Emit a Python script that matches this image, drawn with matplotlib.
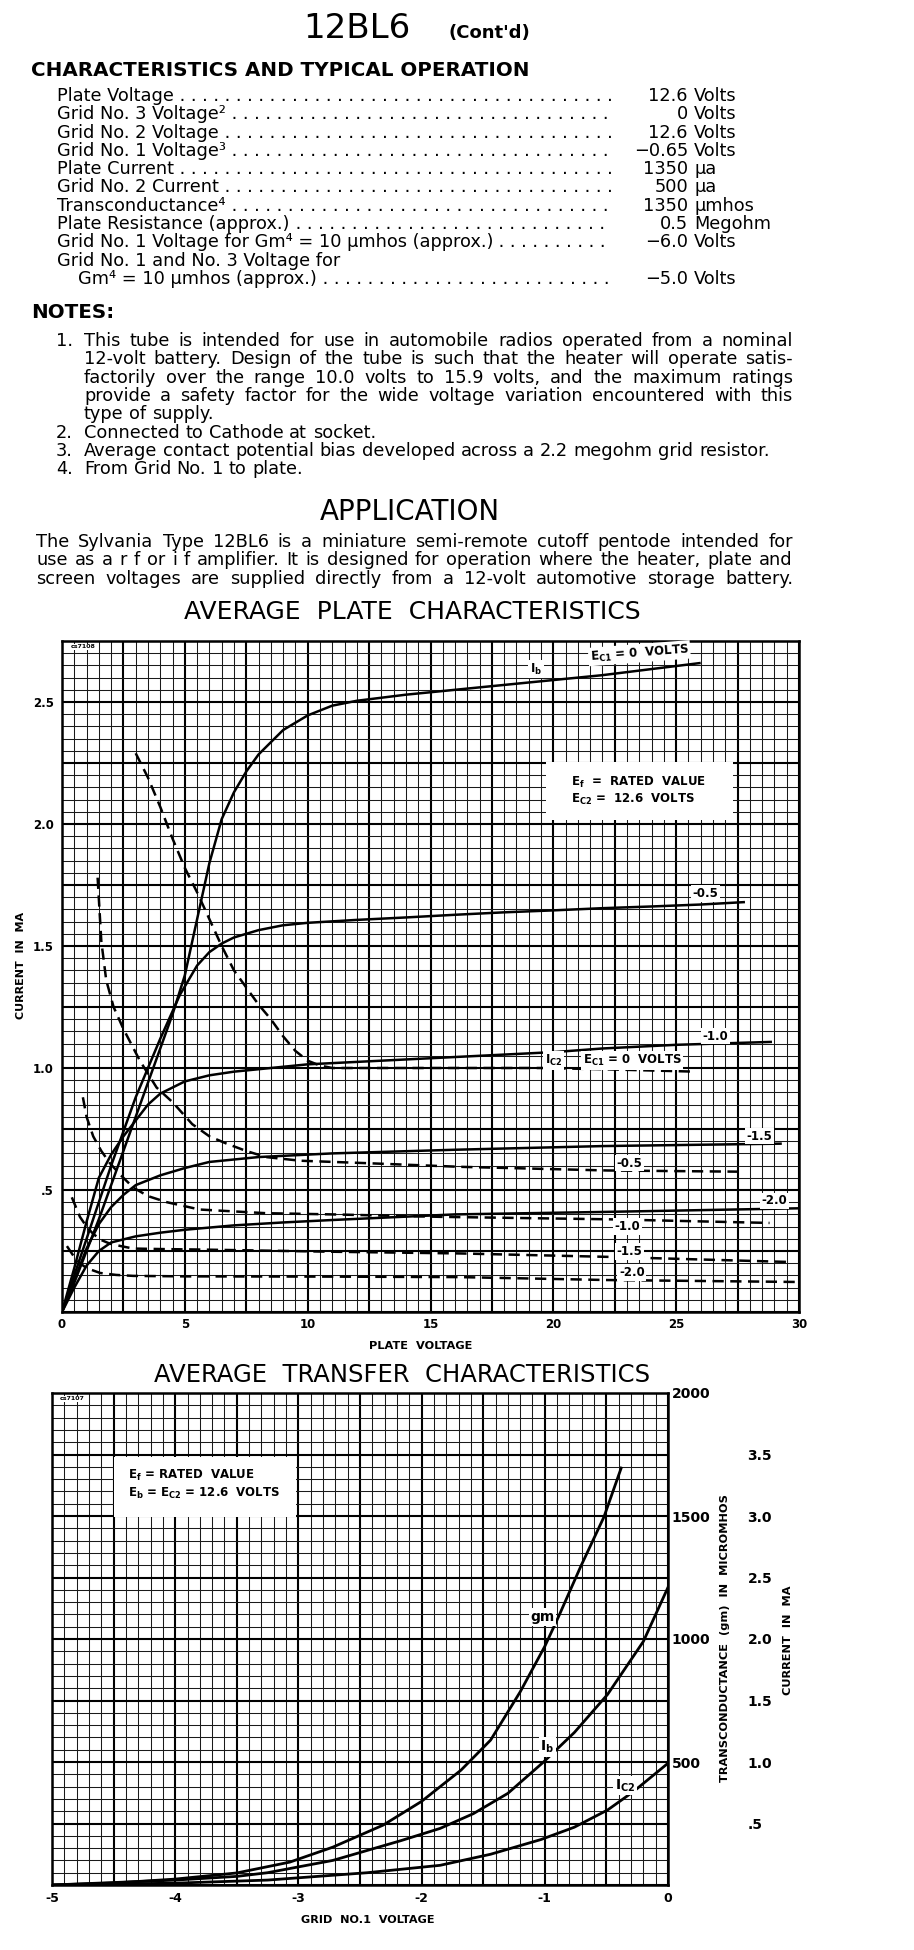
import matplotlib
matplotlib.use('Agg')
import matplotlib.pyplot as plt
import numpy as np
from matplotlib import font_manager
from matplotlib.patches import Rectangle

# ---------------- data ----------------
char_labels = ['Plate Voltage', 'Grid No. 3 Voltage²', 'Grid No. 2 Voltage', 'Grid No. 1 Voltage³',
               'Plate Current', 'Grid No. 2 Current', 'Transconductance⁴', 'Plate Resistance (approx.)',
               'Grid No. 1 Voltage for Gm⁴ = 10 µmhos (approx.)', 'Grid No. 1 and No. 3 Voltage for',
               'Gm⁴ = 10 µmhos (approx.)']
char_values = ['12.6', '0', '12.6', '−0.65', '1350', '500', '1350', '0.5', '−6.0', '', '−5.0']
char_units = ['Volts', 'Volts', 'Volts', 'Volts', 'µa', 'µa', 'µmhos', 'Megohm', 'Volts', '', 'Volts']

note1 = ['This tube is intended for use in automobile radios operated from a nominal',
         '12-volt battery.  Design of the tube is such that the heater will operate satis-',
         'factorily over the range 10.0 volts to 15.9 volts, and the maximum ratings',
         'provide a safety factor for the wide voltage variation encountered with this',
         'type of supply.']
notes_other = ['Connected to Cathode at socket.',
               'Average contact potential bias developed across a 2.2 megohm grid resistor.',
               'From Grid No. 1 to plate.']
application = ['The Sylvania Type 12BL6 is a miniature semi-remote cutoff pentode intended for',
               'use as a r f or i f amplifier.  It is designed for operation where the heater, plate and',
               'screen voltages are supplied directly from a 12-volt automotive storage battery.']

# plate characteristics, plate current Ib (mA) vs plate voltage
ib0_v = [0, 0.5, 1, 1.5, 2, 2.5, 3, 3.5, 4, 4.5, 5, 5.5, 6, 6.5, 7, 7.5, 8, 9, 10, 11, 12, 14, 16, 18, 20, 22, 24, 26]
ib0_i = [0, 0.12, 0.25, 0.38, 0.52, 0.66, 0.80, 0.94, 1.08, 1.22, 1.38, 1.61, 1.84, 2.02, 2.13, 2.215, 2.285,
         2.385, 2.445, 2.485, 2.505, 2.53, 2.55, 2.57, 2.59, 2.61, 2.635, 2.66]
ib05_v = [0, 1, 2, 3, 4, 4.8, 5.5, 6, 6.5, 7, 8, 9, 10, 12, 14, 16, 18, 20, 22, 24, 26, 27.8]
ib05_i = [0, 0.30, 0.60, 0.88, 1.12, 1.30, 1.42, 1.475, 1.51, 1.535, 1.565, 1.585, 1.595, 1.607, 1.617,
          1.628, 1.638, 1.646, 1.655, 1.662, 1.67, 1.68]
ib10_v = [0, 0.5, 1, 1.5, 2, 2.5, 3, 3.5, 4, 5, 6, 7, 8, 10, 12, 15, 18, 20, 22, 25, 28.9]
ib10_i = [0, 0.18, 0.37, 0.55, 0.645, 0.72, 0.785, 0.85, 0.895, 0.945, 0.97, 0.985, 0.995, 1.015, 1.025,
          1.04, 1.055, 1.065, 1.08, 1.095, 1.107]
ib15_v = [0, 0.5, 1, 1.5, 2, 2.5, 3, 4, 5, 6, 8, 11, 16, 22, 29.3]
ib15_i = [0, 0.13, 0.26, 0.36, 0.43, 0.48, 0.52, 0.56, 0.59, 0.615, 0.635, 0.65, 0.665, 0.68, 0.69]
ib20_v = [0, 0.5, 1, 1.5, 2, 3, 4, 5, 7, 9, 11, 16, 22, 30]
ib20_i = [0, 0.10, 0.19, 0.25, 0.285, 0.31, 0.325, 0.337, 0.355, 0.367, 0.377, 0.40, 0.41, 0.425]

# screen current Ic2 (mA), dashed
ic0_v = [3.0, 3.5, 4, 4.5, 5, 5.5, 6, 6.5, 7, 7.5, 8, 8.5, 9, 9.5, 10, 10.5, 11, 13, 16, 19.5, 22, 25.8]
ic0_i = [2.29, 2.19, 2.07, 1.94, 1.82, 1.72, 1.61, 1.50, 1.40, 1.33, 1.26, 1.20, 1.13, 1.07, 1.03, 1.01,
         1.0, 1.0, 1.0, 1.0, 0.995, 0.985]
ic05_v = [1.45, 1.6, 1.8, 2.1, 2.5, 3.17, 3.85, 4.5, 5.3, 6.0, 6.7, 7.5, 8.3, 9.7, 12.4, 16.2, 22.2, 27.7]
ic05_i = [1.78, 1.52, 1.36, 1.25, 1.16, 1.03, 0.92, 0.86, 0.77, 0.72, 0.69, 0.66, 0.635, 0.62, 0.61,
          0.595, 0.58, 0.575]
ic10_v = [0.85, 1.0, 1.27, 1.6, 1.95, 2.4, 2.9, 3.5, 4.27, 5.6, 8.3, 11, 15.4, 22.2, 28.8]
ic10_i = [0.88, 0.80, 0.72, 0.66, 0.61, 0.56, 0.51, 0.475, 0.45, 0.42, 0.405, 0.40, 0.39, 0.38, 0.365]
ic15_v = [0.4, 0.73, 1.0, 1.27, 1.6, 1.95, 2.4, 2.9, 4, 5.6, 11, 16.2, 22.2, 29.6]
ic15_i = [0.47, 0.39, 0.35, 0.32, 0.295, 0.28, 0.27, 0.26, 0.258, 0.256, 0.247, 0.24, 0.226, 0.205]
ic20_v = [0.2, 0.5, 0.73, 1.0, 1.55, 2.2, 2.9, 5, 11, 16.2, 22.2, 30]
ic20_i = [0.27, 0.225, 0.20, 0.18, 0.16, 0.152, 0.148, 0.146, 0.145, 0.143, 0.131, 0.123]

# transfer characteristics vs grid no.1 voltage
gm_v = [-5, -4.5, -4, -3.5, -3.07, -2.72, -2.31, -2.0, -1.68, -1.44, -1.2, -1.0, -0.89, -0.71, -0.52, -0.38]
gm_val = [0, 8, 24, 49, 93, 154, 244, 340, 467, 589, 785, 970, 1089, 1293, 1496, 1695]
tib_v = [-5, -4.5, -4, -3.5, -3.25, -2.72, -2.17, -1.85, -1.58, -1.3, -1.01, -0.76, -0.49, -0.2, 0]
tib_i = [0.0, 0.02, 0.04, 0.07, 0.10, 0.20, 0.36, 0.46, 0.58, 0.745, 1.0, 1.24, 1.55, 1.98, 2.42]
tic2_v = [-5, -4.5, -4, -3.25, -2.44, -1.85, -1.44, -1.03, -0.76, -0.49, -0.28, 0]
tic2_i = [0.0, 0.008, 0.015, 0.04, 0.10, 0.16, 0.25, 0.37, 0.47, 0.61, 0.76, 0.99]

# ---------------- figure ----------------
W, H = 914, 1950
fig = plt.figure(figsize=(W / 100, H / 100), dpi=100)
renderer = fig.canvas.get_renderer()

names = {f.name for f in font_manager.fontManager.ttflist}
narrow = 'Liberation Sans Narrow' if 'Liberation Sans Narrow' in names else 'DejaVu Sans'


def fx(x):
    return x / W


def fy(y):
    return 1 - y / H


def width_px(s, **kw):
    t = fig.text(0, 0, s, **kw)
    w = t.get_window_extent(renderer).width
    t.remove()
    return w


body = 12.8


def put_line(line, x0, x1, yb, justify=True):
    words = line.split()
    ws = [width_px(w, fontsize=body) for w in words]
    space = body * 100 / 72 * 0.318
    gap = space
    if justify and len(words) > 1:
        gap = max((x1 - x0 - sum(ws)) / (len(words) - 1), space * 0.6)
    x = x0
    for w, wd in zip(words, ws):
        fig.text(fx(x), fy(yb), w, fontsize=body, va='baseline')
        x += wd + gap


# header
fig.text(fx(303), fy(38), '12BL6', fontsize=24.5, va='baseline')
fig.text(fx(448), fy(38), "(Cont'd)", fontsize=13, fontweight='bold', va='baseline')
fig.text(fx(31), fy(76), 'CHARACTERISTICS AND TYPICAL OPERATION', fontsize=14.3, fontweight='bold', va='baseline')

dot_w = width_px('. .', fontsize=body) - width_px('.', fontsize=body)
for i, (lab, val, unit) in enumerate(zip(char_labels, char_values, char_units)):
    yb = 101 + 18.3 * i
    x0 = 78 if i == 10 else 57
    fig.text(fx(x0), fy(yb), lab, fontsize=body, va='baseline')
    if val:
        xe = x0 + width_px(lab, fontsize=body)
        n = int((615 - xe) / dot_w)
        fig.text(fx(xe), fy(yb), ' .' * n, fontsize=body, va='baseline')
        fig.text(fx(688), fy(yb), val, fontsize=body, va='baseline', ha='right')
        fig.text(fx(694), fy(yb), unit, fontsize=body, va='baseline')

# notes
fig.text(fx(31), fy(318), 'NOTES:', fontsize=14.3, fontweight='bold', va='baseline')
fig.text(fx(56), fy(346), '1.', fontsize=body, va='baseline')
for i, line in enumerate(note1):
    put_line(line, 84, 793, 346 + 18.3 * i, justify=(i < len(note1) - 1))
for j, line in enumerate(notes_other):
    yb = 346 + 18.3 * (len(note1) + j)
    fig.text(fx(56), fy(yb), f'{j + 2}.', fontsize=body, va='baseline')
    put_line(line, 84, 793, yb, justify=False)

fig.text(fx(410), fy(520), 'APPLICATION', fontsize=20, family=narrow, ha='center', va='baseline')
for i, line in enumerate(application):
    put_line(line, 36, 793, 547 + 18.3 * i)

fig.text(fx(412), fy(619), 'AVERAGE  PLATE  CHARACTERISTICS', fontsize=22 if narrow != 'DejaVu Sans' else 18,
         family=narrow, ha='center', va='baseline')
fig.text(fx(402), fy(1382), 'AVERAGE  TRANSFER  CHARACTERISTICS', fontsize=17.5, ha='center', va='baseline')


def paper_grid(ax, xmin, ymin):
    ax.set_axisbelow(True)
    ax.set_xticks(xmin, minor=True)
    ax.set_yticks(ymin, minor=True)
    ax.grid(which='minor', color='#1a1a1a', lw=0.75)
    ax.grid(which='major', color='black', lw=1.5)
    ax.tick_params(which='both', length=0)
    for s in ax.spines.values():
        s.set_linewidth(1.8)


# ---------------- plate characteristics ----------------
ax = fig.add_axes([fx(62), fy(1312), (799 - 62) / W, (1312 - 641) / H])
ax.set_xlim(0, 30)
ax.set_ylim(0, 2.75)
xmaj = np.arange(0, 30.01, 2.5)
ymaj = np.arange(0, 2.751, 0.25)
ax.set_xticks(xmaj, [f'{v:.0f}' if v % 5 == 0 else '' for v in xmaj], fontsize=8.5, fontweight='bold')
ylabs = []
for v in ymaj:
    if v > 0 and abs(v * 2 - round(v * 2)) < 1e-6:
        ylabs.append('.5' if abs(v - 0.5) < 1e-6 else f'{v:.1f}')
    else:
        ylabs.append('')
ax.set_yticks(ymaj, ylabs, fontsize=8.5, fontweight='bold')
paper_grid(ax, np.arange(0, 30.01, 0.5), np.arange(0, 2.751, 0.05))
ax.tick_params(axis='x', pad=4)
ax.tick_params(axis='y', pad=6)

lw = 1.8
dash = (0, (4.5, 2.6))
for v, i in [(ib0_v, ib0_i), (ib05_v, ib05_i), (ib10_v, ib10_i), (ib15_v, ib15_i), (ib20_v, ib20_i)]:
    ax.plot(v, i, color='black', lw=lw, zorder=3, solid_capstyle='butt', solid_joinstyle='round')
for v, i in [(ic0_v, ic0_i), (ic05_v, ic05_i), (ic10_v, ic10_i), (ic15_v, ic15_i), (ic20_v, ic20_i)]:
    ax.plot(v, i, color='black', lw=lw, ls=dash, zorder=3)

wb = dict(facecolor='white', edgecolor='none', pad=1.2)
lab_kw = dict(fontsize=8.5, fontweight='bold', ha='center', va='center', zorder=6, bbox=wb)
ax.text(19.3, 2.635, r'I$_\mathbf{b}$', **lab_kw)
ax.text(23.5, 2.70, r'E$_\mathbf{C1}$ = 0  VOLTS', rotation=4.4, **lab_kw)
ax.text(26.2, 1.715, '-0.5', **lab_kw)
ax.text(26.6, 1.13, '-1.0', **lab_kw)
ax.text(28.4, 0.72, '-1.5', **lab_kw)
ax.text(29.0, 0.455, '-2.0', **lab_kw)
ax.text(20.0, 1.03, r'I$_\mathbf{C2}$', **lab_kw)
ax.text(23.2, 1.03, r'E$_\mathbf{C1}$ = 0  VOLTS', **lab_kw)
ax.text(23.1, 0.61, '-0.5', **lab_kw)
ax.text(23.0, 0.35, '-1.0', **lab_kw)
ax.text(23.1, 0.248, '-1.5', **lab_kw)
ax.text(23.2, 0.162, '-2.0', **lab_kw)

ax.add_patch(Rectangle((19.7, 2.016), 7.6, 0.238, facecolor='white', edgecolor='none', zorder=4))
ax.text(20.7, 2.17, r'E$_\mathbf{f}$  =  RATED  VALUE', fontsize=8.5, fontweight='bold', va='center', zorder=5)
ax.text(20.7, 2.10, r'E$_\mathbf{C2}$ =  12.6  VOLTS', fontsize=8.5, fontweight='bold', va='center', zorder=5)
ax.text(0.012, 0.995, 'cs7108', transform=ax.transAxes, fontsize=4.5, fontweight='bold', va='top', zorder=5,
        bbox=dict(facecolor='white', edgecolor='none', pad=0.5))

fig.text(fx(421), fy(1349), 'PLATE  VOLTAGE', fontsize=8.2, fontweight='bold', ha='center', va='baseline')
fig.text(fx(21), fy(965), 'CURRENT  IN  MA', fontsize=8, fontweight='bold', rotation=90, ha='center', va='center')

# ---------------- transfer characteristics ----------------
ax2 = fig.add_axes([fx(52), fy(1885), (668 - 52) / W, (1885 - 1393) / H])
ax2.set_xlim(-5, 0)
ax2.set_ylim(0, 2000)
ax2c = ax2.twinx()  # current scale, in mA
ax2c.set_ylim(0, 4)
ax2c.spines['right'].set_position(('axes', 1 + 78 / 616))

txmaj = np.arange(-5, 0.001, 0.5)
tymaj = np.arange(0, 2001, 250)
ax2.set_xticks(txmaj, [f'{v:.0f}' if v % 1 == 0 else '' for v in txmaj], fontsize=9, fontweight='bold')
ax2.set_yticks(tymaj, [f'{v:.0f}' if v % 500 == 0 and v > 0 else '' for v in tymaj], fontsize=10,
               fontweight='bold')
paper_grid(ax2, np.arange(-5, 0.001, 0.1), np.arange(0, 2001, 50))
ax2.yaxis.tick_right()
ax2.tick_params(axis='x', pad=5)
ax2.tick_params(axis='y', which='both', length=0, pad=2.5, left=False, labelleft=False, right=True,
                labelright=True)
ax2.plot(gm_v, gm_val, color='black', lw=2.0, zorder=3)

cur_t = [0.5, 1.0, 1.5, 2.0, 2.5, 3.0, 3.5]
ax2c.set_yticks(cur_t, ['.5' if c == 0.5 else f'{c:.1f}' for c in cur_t], fontsize=10, fontweight='bold')
for s in ax2c.spines.values():
    s.set_visible(False)
ax2c.tick_params(length=0, pad=1)
plt.setp(ax2c.yaxis.get_ticklabels(), fontweight='bold')
ax2c.plot(tib_v, tib_i, color='black', lw=2.0, zorder=3)
ax2c.plot(tic2_v, tic2_i, color='black', lw=2.0, zorder=3)

ax2.text(-1.02, 1090, 'gm', fontsize=10, fontweight='bold', ha='center', va='center', zorder=6, bbox=wb)
ax2c.text(-0.98, 1.12, r'I$_\mathbf{b}$', fontsize=10, fontweight='bold', ha='center', va='center', zorder=6,
          bbox=wb)
ax2c.text(-0.35, 0.81, r'I$_\mathbf{C2}$', fontsize=10, fontweight='bold', ha='center', va='center', zorder=6,
          bbox=wb)

ax2.add_patch(Rectangle((-4.5, 1496), 1.48, 244, facecolor='white', edgecolor='none', zorder=4))
ax2.text(-4.38, 1663, r'E$_\mathbf{f}$ = RATED  VALUE', fontsize=8.5, fontweight='bold', va='center', zorder=5)
ax2.text(-4.38, 1593, r'E$_\mathbf{b}$ = E$_\mathbf{C2}$ = 12.6  VOLTS', fontsize=8.5, fontweight='bold',
         va='center', zorder=5)
ax2.text(0.012, 0.993, 'cs7107', transform=ax2.transAxes, fontsize=4.5, fontweight='bold', va='top', zorder=5,
         bbox=dict(facecolor='white', edgecolor='none', pad=0.5))

fig.text(fx(368), fy(1923), 'GRID  NO.1  VOLTAGE', fontsize=8.1, fontweight='bold', ha='center', va='baseline')
fig.text(fx(725), fy(1638), 'TRANSCONDUCTANCE  (gm)  IN  MICROMHOS', fontsize=8.2, fontweight='bold', rotation=90,
         ha='center', va='center')
fig.text(fx(788), fy(1640), 'CURRENT  IN  MA', fontsize=8.2, fontweight='bold', rotation=90, ha='center',
         va='center')

fig.savefig('out.png', dpi=100)
